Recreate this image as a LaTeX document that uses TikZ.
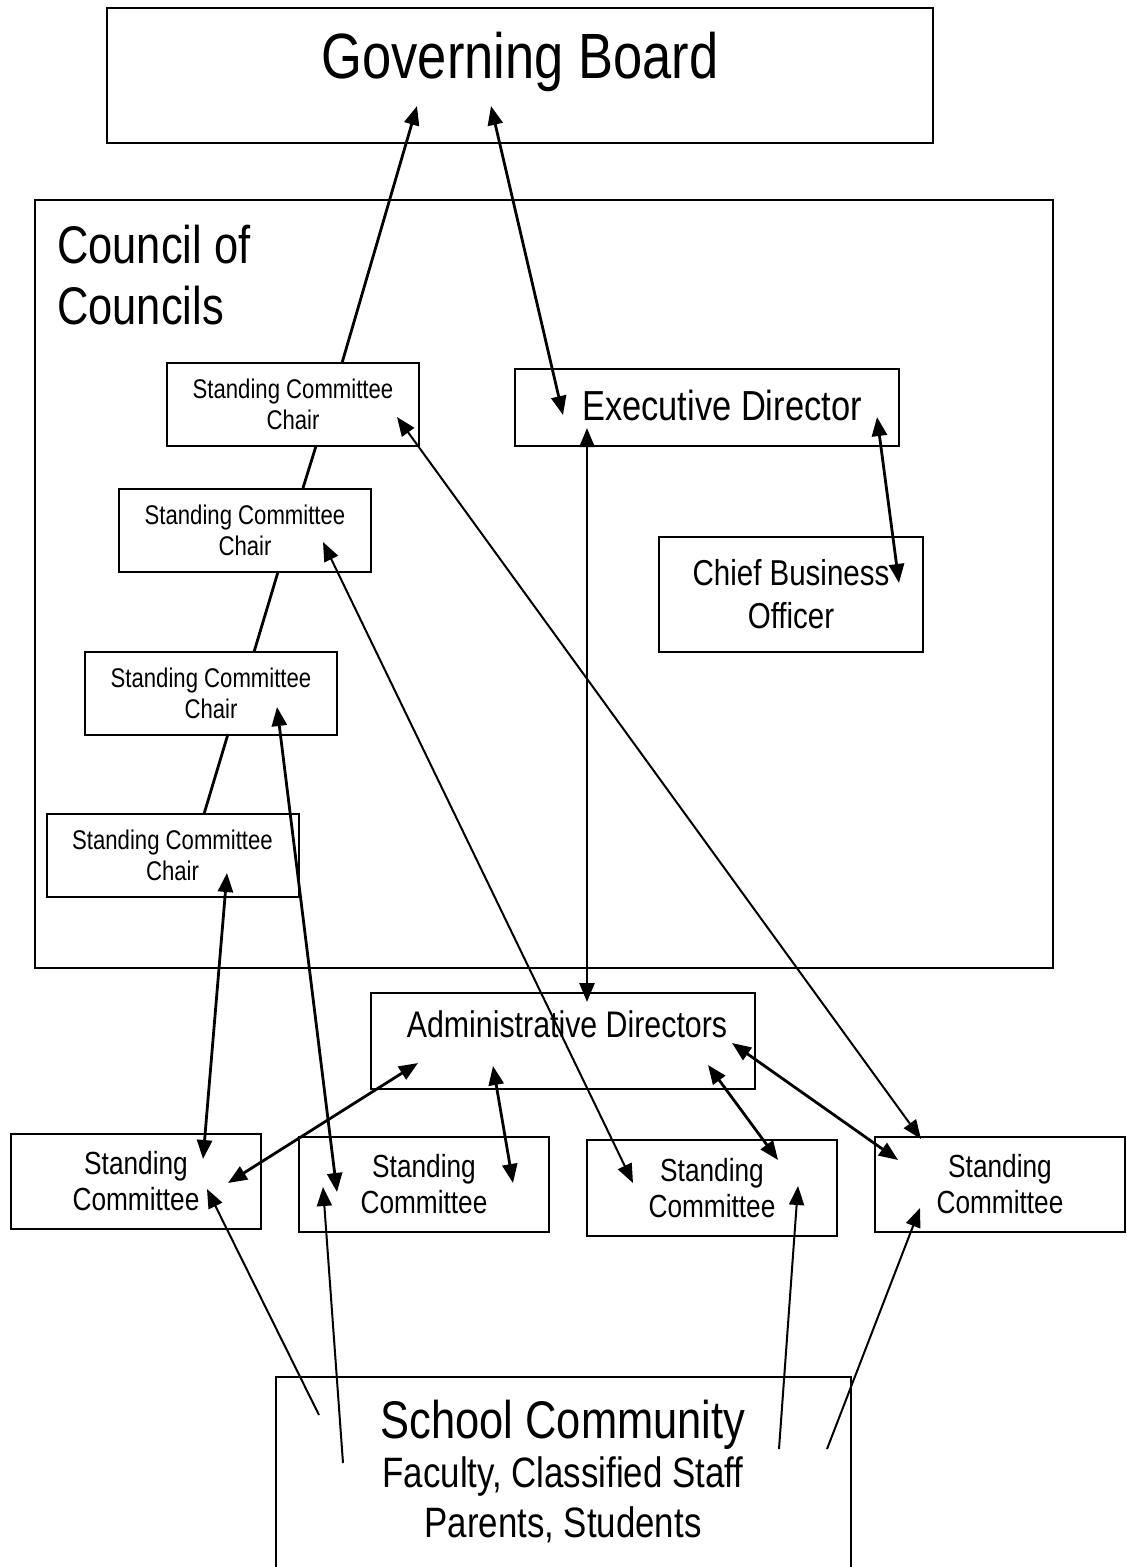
\documentclass[tikz,border=0pt]{standalone}
\usepackage{fontspec}
\setmainfont[FakeStretch=0.82]{Liberation Sans}
\usetikzlibrary{arrows.meta}
\begin{document}
\begin{tikzpicture}[x=1pt,y=-1pt,
		>={Triangle[length=19pt,width=15pt]},
		box/.style={draw,line width=2pt,inner sep=0pt,outer sep=0pt},
		chairbox/.style={box,minimum width=252pt,minimum height=83pt,align=center,font=\fontsize{27}{31}\selectfont},
		cmtbox/.style={box,minimum width=250pt,minimum height=95pt,align=center,font=\fontsize{32}{36}\selectfont},
		link/.style={line width=2.8pt},
		thin/.style={line width=2pt}]
		\useasboundingbox (0,0) rectangle (1127,1567);
		\node [box,minimum width=826pt,minimum height=135pt] (gb) at (520,75.5) {};
		\node [anchor=base,inner sep=0pt,font=\fontsize{64}{70}\selectfont] (gbtext) at (520,78) {Governing Board};
		\node [box,minimum width=1018pt,minimum height=768pt] (council) at (544,584) {};
		\node [anchor=base west,inner sep=0pt,font=\fontsize{53}{61}\selectfont] (counciltext) at (57,263) {Council of};
		\node [anchor=base west,inner sep=0pt,font=\fontsize{53}{61}\selectfont] (counciltext2) at (57,324) {Councils};
		\node [chairbox] (chair1) at (293,404.5) {Standing Committee\\Chair};
		\node [chairbox] (chair2) at (245,530) {Standing Committee\\Chair};
		\node [chairbox] (chair3) at (211,693) {Standing Committee\\Chair};
		\node [chairbox] (chair4) at (172.5,855.5) {Standing Committee\\Chair};
		\node [box,minimum width=384pt,minimum height=77pt] (exec) at (707,407.5) {};
		\node [anchor=base,inner sep=0pt,font=\fontsize{42}{48}\selectfont] (exectext) at (722,420) {Executive Director};
		\node [box,minimum width=264pt,minimum height=115pt,align=center,font=\fontsize{36}{43}\selectfont] (cbo) at (791,594.5) {Chief Business\\Officer};
		\node [box,minimum width=384pt,minimum height=96pt] (admin) at (563,1041) {};
		\node [anchor=base,inner sep=0pt,font=\fontsize{37}{43}\selectfont] (admintext) at (567,1037) {Administrative Directors};
		\node [cmtbox] (cmtA) at (136,1181.5) {Standing\\Committee};
		\node [cmtbox] (cmtB) at (424,1184.5) {Standing\\Committee};
		\node [cmtbox,minimum height=96pt] (cmtC) at (712,1188) {Standing\\Committee};
		\node [cmtbox] (cmtD) at (1000,1184) {Standing\\Committee};
		\node [box,minimum width=575pt,minimum height=250pt,anchor=north] (school) at (563.5,1377) {};
		\node [anchor=base,inner sep=0pt,font=\fontsize{53}{60}\selectfont] (schooltext) at (563,1438) {School Community};
		\node [anchor=base,inner sep=0pt,font=\fontsize{42.5}{50}\selectfont] (stafftext) at (563,1487) {Faculty, Classified Staff};
		\node [anchor=base,inner sep=0pt,font=\fontsize{42.5}{50}\selectfont] (parenttext) at (563,1537) {Parents, Students};
		\coordinate (gbL) at (417,106);
		\coordinate (gbR) at (491,106);
		\coordinate (c1T) at (342,363);
		\coordinate (c1B) at (316,446);
		\coordinate (c1R) at (397,417);
		\coordinate (c2T) at (303,488);
		\coordinate (c2B) at (278,572);
		\coordinate (c2R) at (323,542);
		\coordinate (c3T) at (254,652);
		\coordinate (c3B) at (228,734);
		\coordinate (c3R) at (277,707);
		\coordinate (c4T) at (204,814);
		\coordinate (c4R) at (227,873);
		\coordinate (execL) at (563,415);
		\coordinate (execB) at (587,428);
		\coordinate (execR) at (877,417);
		\coordinate (cboR) at (899,583);
		\coordinate (adminT) at (587,1002);
		\coordinate (adminA) at (418,1063);
		\coordinate (adminB) at (493,1066);
		\coordinate (adminC) at (708,1065);
		\coordinate (adminD) at (732,1043);
		\coordinate (aT) at (203,1159);
		\coordinate (aR) at (228,1183);
		\coordinate (aS) at (207,1189);
		\coordinate (bR) at (337,1192);
		\coordinate (bM) at (513,1183);
		\coordinate (bS) at (323,1187);
		\coordinate (cL) at (633,1183);
		\coordinate (cR) at (778,1160);
		\coordinate (cS) at (798,1186);
		\coordinate (dT) at (921,1139);
		\coordinate (dL) at (898,1160);
		\coordinate (dS) at (920,1208);
		\coordinate (s1) at (319,1415);
		\coordinate (s2) at (343,1463);
		\coordinate (s3) at (779,1449);
		\coordinate (s4) at (827,1449);
		\draw [link,->] (c1T) -- (gbL);
		\draw [link,<->] (gbR) -- (execL);
		\draw [link] (c1B) -- (c2T);
		\draw [link] (c2B) -- (c3T);
		\draw [link] (c3B) -- (c4T);
		\draw [link,<->] (execB) -- (adminT);
		\draw [link,<->] (execR) -- (cboR);
		\draw [thin,<->] (c1R) -- (dT);
		\draw [thin,<->] (c2R) -- (cL);
		\draw [link,<->] (c3R) -- (bR);
		\draw [link,<->] (c4R) -- (aT);
		\draw [link,<->] (adminA) -- (aR);
		\draw [link,<->] (adminB) -- (bM);
		\draw [link,<->] (adminC) -- (cR);
		\draw [link,<->] (adminD) -- (dL);
		\draw [thin,->] (s1) -- (aS);
		\draw [thin,->] (s2) -- (bS);
		\draw [thin,->] (s3) -- (cS);
		\draw [thin,->] (s4) -- (dS);
	\end{tikzpicture}
\end{document}
